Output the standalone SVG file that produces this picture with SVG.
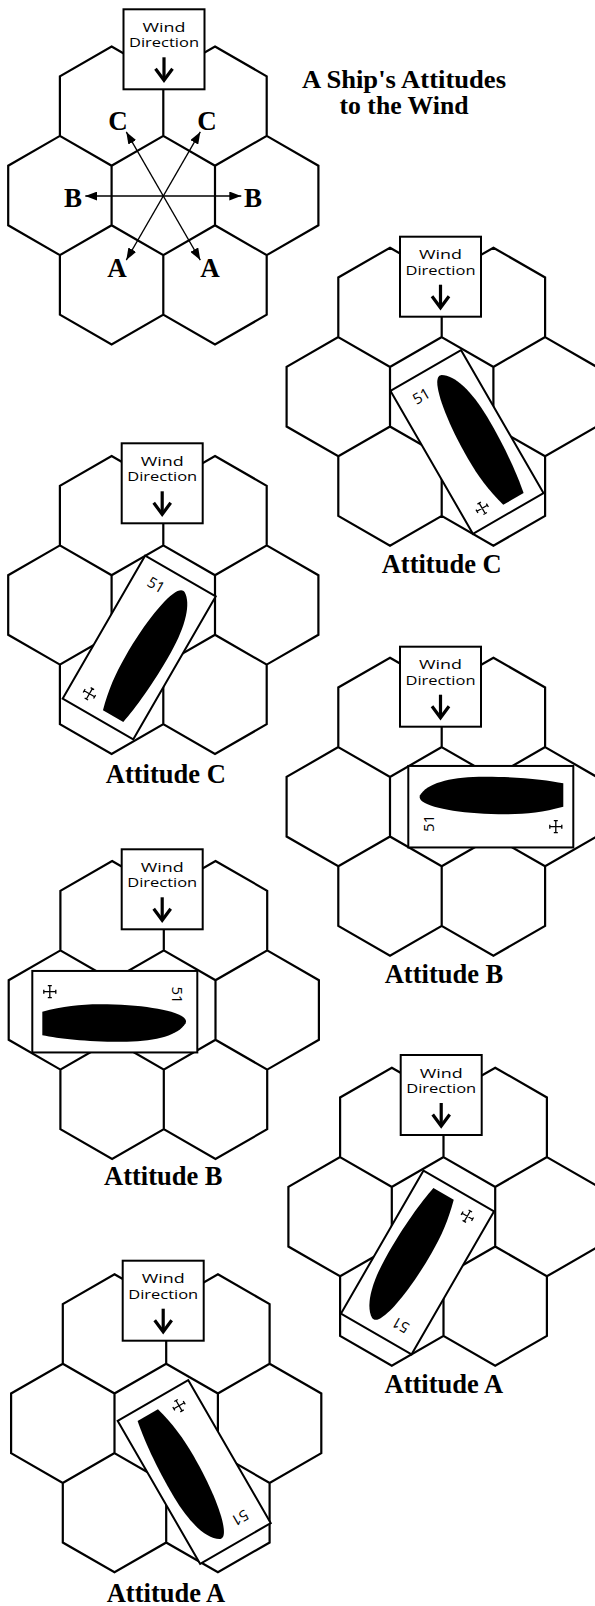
<svg xmlns="http://www.w3.org/2000/svg" xmlns:xlink="http://www.w3.org/1999/xlink" width="595" height="1606" viewBox="0 0 595 1606">
  <style>
    .hex { fill: none; stroke: #000; stroke-width: 2.2; stroke-linejoin: miter; }
    .box { fill: #fff; stroke: #000; stroke-width: 2; }
    .wind { font-family: "Open Sans", "Liberation Sans", sans-serif; font-size: 13.5px; fill: #000; text-anchor: middle; }
    .warrow { fill: none; stroke: #000; stroke-width: 3.2; stroke-linejoin: miter; }
    .card { fill: #fff; stroke: #000; stroke-width: 2; }
    .hull { fill: #000; }
    .num { font-family: "Open Sans", "Liberation Sans", sans-serif; font-size: 15px; fill: #000; text-anchor: middle; dominant-baseline: central; }
    .flag { fill: none; stroke: #000; stroke-width: 1.3; }
    .label { font-family: "Liberation Serif", "Times New Roman", serif; font-weight: bold; font-size: 26.5px; fill: #000; text-anchor: middle; }
    .title { font-family: "Liberation Serif", "Times New Roman", serif; font-weight: bold; font-size: 25px; fill: #000; text-anchor: middle; }
    .dir { font-family: "Liberation Serif", "Times New Roman", serif; font-weight: bold; font-size: 27px; fill: #000; text-anchor: middle; }
    .ray { stroke: #000; stroke-width: 1.3; fill: none; }
  </style>
  <defs>
    <!-- seven-hex cluster centred on (0,0) -->
    <path id="flower" class="hex" d="M0,-59.6 L51.7,-29.8 L51.7,29.8 L0,59.6 L-51.7,29.8 L-51.7,-29.8 Z
      M103.4,-59.6 L155.1,-29.8 L155.1,29.8 L103.4,59.6 L51.7,29.8 L51.7,-29.8 Z
      M-103.4,-59.6 L-51.7,-29.8 L-51.7,29.8 L-103.4,59.6 L-155.1,29.8 L-155.1,-29.8 Z
      M51.7,-149 L103.4,-119.2 L103.4,-59.6 L51.7,-29.8 L0,-59.6 L0,-119.2 Z
      M-51.7,-149 L0,-119.2 L0,-59.6 L-51.7,-29.8 L-103.4,-59.6 L-103.4,-119.2 Z
      M51.7,29.8 L103.4,59.6 L103.4,119.2 L51.7,149 L0,119.2 L0,59.6 Z
      M-51.7,29.8 L0,59.6 L0,119.2 L-51.7,149 L-103.4,119.2 L-103.4,59.6 Z"/>
    <!-- wind direction indicator, top-left corner at (0,0) -->
    <g id="windbox">
      <rect class="box" x="0" y="0" width="81" height="80"/>
      <text class="wind" x="40.5" y="22.5" textLength="43" lengthAdjust="spacingAndGlyphs">Wind</text>
      <text class="wind" x="40.5" y="38" textLength="70" lengthAdjust="spacingAndGlyphs">Direction</text>
      <path class="warrow" d="M40.5,48 V70"/>
      <path class="warrow" d="M32,59.5 L40.5,71 L49,59.5"/>
    </g>
    <!-- ship counter, bow toward -x, centred on (0,0) -->
    <g id="counter">
      <rect class="card" x="-82.5" y="-40.75" width="165" height="81.5"/>
      <path class="hull" d="M-70.8,-11.5 C-64,-23 -42,-29.5 -12,-30 C25,-30.5 55,-27 72.5,-23.5 L72.5,0 C52,5.5 35,7.5 15,7.5 C-25,7.5 -58,2 -68,-5 C-71.5,-7.5 -71.5,-9.5 -70.8,-11.5 Z"/>
      <text class="num" transform="translate(-63.3,16.6) rotate(-90)">51</text>
      <path class="flag" d="M59,20 H71 M65,14 V26 M59,18 V22 M71,18 V22 M63,14 H67 M63,26 H67"/>
    </g>
    <marker id="tip" viewBox="0 0 12 9" refX="12" refY="4.5" markerWidth="12" markerHeight="9" markerUnits="userSpaceOnUse" orient="auto-start-reverse">
      <path d="M0,0 L12,4.5 L0,9 Z" fill="#000"/>
    </marker>
  </defs>

  <rect x="0" y="0" width="595" height="1606" fill="#fff"/>

  <!-- key diagram: the three attitudes -->
  <g id="key">
    <use xlink:href="#flower" href="#flower" transform="translate(163.3,195.5)"/>
    <use xlink:href="#windbox" href="#windbox" transform="translate(123.5,9.3)"/>
    <text class="dir" x="118" y="130">C</text>
    <text class="dir" x="207" y="130">C</text>
    <text class="dir" x="73" y="207">B</text>
    <text class="dir" x="253" y="207">B</text>
    <text class="dir" x="117" y="276.5">A</text>
    <text class="dir" x="210" y="276.5">A</text>
  </g>
  <g id="connectors">
    <line class="ray" x1="85.3" y1="196" x2="241.3" y2="196" marker-start="url(#tip)" marker-end="url(#tip)"/>
    <line class="ray" x1="126.3" y1="260.1" x2="200.3" y2="131.9" marker-start="url(#tip)" marker-end="url(#tip)"/>
    <line class="ray" x1="126.3" y1="131.9" x2="200.3" y2="260.1" marker-start="url(#tip)" marker-end="url(#tip)"/>
  </g>

  <g id="title">
    <text class="title" x="404" y="87.5" textLength="204" lengthAdjust="spacingAndGlyphs">A Ship's Attitudes</text>
    <text class="title" x="404" y="113.5" textLength="129" lengthAdjust="spacingAndGlyphs">to the Wind</text>
  </g>

  <g id="attitude-c-right">
    <use xlink:href="#flower" href="#flower" transform="translate(441.7,396.7)"/>
    <use xlink:href="#windbox" href="#windbox" transform="translate(400,236.7)"/>
    <use xlink:href="#counter" href="#counter" transform="translate(467,442) rotate(60)"/>
    <text class="label" x="441.7" y="573.3">Attitude C</text>
  </g>

  <g id="attitude-c-left">
    <use xlink:href="#flower" href="#flower" transform="translate(163.3,605)"/>
    <use xlink:href="#windbox" href="#windbox" transform="translate(121.7,443.3)"/>
    <use xlink:href="#counter" href="#counter" transform="translate(139.2,647.5) rotate(120)"/>
    <text class="label" x="165.8" y="783.3">Attitude C</text>
  </g>

  <g id="attitude-b-right">
    <use xlink:href="#flower" href="#flower" transform="translate(441.7,806.7)"/>
    <use xlink:href="#windbox" href="#windbox" transform="translate(400,646.7)"/>
    <use xlink:href="#counter" href="#counter" transform="translate(490.8,806.7)"/>
    <text class="label" x="444" y="983.3">Attitude B</text>
  </g>

  <g id="attitude-b-left">
    <use xlink:href="#flower" href="#flower" transform="translate(163.8,1010)"/>
    <use xlink:href="#windbox" href="#windbox" transform="translate(121.7,849.3)"/>
    <use xlink:href="#counter" href="#counter" transform="translate(114.8,1011.7) rotate(180)"/>
    <text class="label" x="163.3" y="1185">Attitude B</text>
  </g>

  <g id="attitude-a-right">
    <use xlink:href="#flower" href="#flower" transform="translate(443.5,1216.7)"/>
    <use xlink:href="#windbox" href="#windbox" transform="translate(400.7,1055)"/>
    <use xlink:href="#counter" href="#counter" transform="translate(417.5,1262.5) rotate(-60)"/>
    <text class="label" x="443.8" y="1393.3">Attitude A</text>
  </g>

  <g id="attitude-a-left">
    <use xlink:href="#flower" href="#flower" transform="translate(166.2,1423.3)"/>
    <use xlink:href="#windbox" href="#windbox" transform="translate(122.7,1260.7)"/>
    <use xlink:href="#counter" href="#counter" transform="translate(194.2,1472) rotate(-120)"/>
    <text class="label" x="166" y="1602">Attitude A</text>
  </g>
</svg>
